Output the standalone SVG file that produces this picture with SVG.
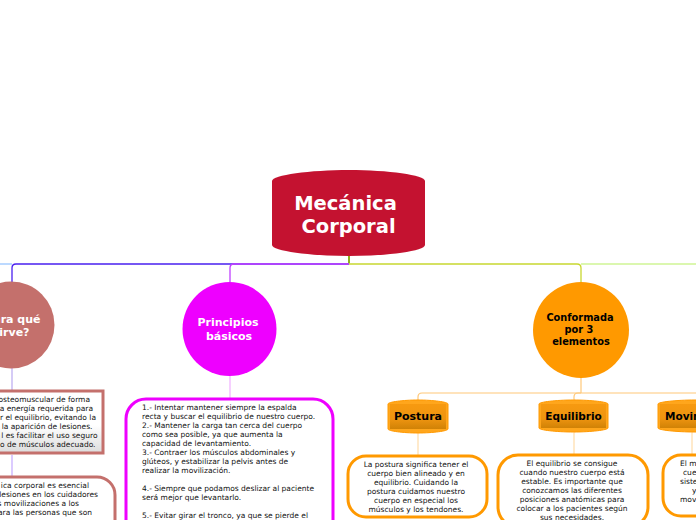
<svg xmlns="http://www.w3.org/2000/svg" width="696" height="520" viewBox="0 0 696 520">
<defs>
<linearGradient id="cyl" x1="0" y1="0" x2="0" y2="1"><stop offset="0" stop-color="#f79a10"/><stop offset="0.6" stop-color="#ee9410"/><stop offset="1" stop-color="#d08206"/></linearGradient>
<linearGradient id="boxg" x1="0" y1="0" x2="0" y2="1"><stop offset="0" stop-color="#ffffff"/><stop offset="0.55" stop-color="#ffffff"/><stop offset="1" stop-color="#dcdcdc"/></linearGradient>
</defs>
<style>
text{font-family:"DejaVu Sans",Verdana,sans-serif;text-anchor:middle}
.t{font-size:7.500px;fill:#111}
.l{text-anchor:start}
.e{text-anchor:end}
.card{fill:#fff;stroke-width:3}
.b{font-weight:bold}
</style>
<g id="connectors" fill="none">
<path d="M349 256V263.500" stroke="#8fb020" stroke-width="2"/>
<path d="M0 264H12" stroke="#8fc0ff" stroke-width="1.200"/>
<path d="M349 264H16Q12 264 12 268V282" stroke="#4a20f0" stroke-width="1.300"/>
<path d="M349 264H234Q230 264 230 268V282" stroke="#c040ff" stroke-width="1.300"/>
<path d="M349 264H577Q581 264 581 268V282" stroke="#c8d830" stroke-width="1.300"/>
<path d="M581 264H696" stroke="#b8ef60" stroke-width="1.200"/>
<path d="M12 368V391" stroke="#b9a8f0" stroke-width="1.200"/>
<path d="M12 455V477" stroke="#c4a8ff" stroke-width="1.200"/>
<path d="M230 376V399" stroke="#f0b0ff" stroke-width="1.200"/>
<path d="M581 378V393" stroke="#ffc878" stroke-width="1.200"/>
<path d="M581 393H422Q418 393 418 397V400" stroke="#ffc878" stroke-width="1.200"/>
<path d="M581 393H578Q574 393 574 397V400" stroke="#ffc878" stroke-width="1.200"/>
<path d="M581 393H696" stroke="#ffc878" stroke-width="1.200"/>
<path d="M418 433V455" stroke="#ffdca8" stroke-width="1.200"/>
<path d="M574 432V455" stroke="#ffdca8" stroke-width="1.200"/>
<path d="M692 432V455" stroke="#ffdca8" stroke-width="1.200"/>
</g>
<g id="root">
<path d="M272 181C272 175 310 170 349 170C388 170 425 175 425 181V245C425 251 388 256 349 256C310 256 272 251 272 245Z" fill="#c41230"/>
<text x="345.500" y="209.500" class="b" font-size="19.500" fill="#fff">Mecánica</text>
<text x="348.500" y="233" class="b" font-size="19.500" fill="#fff">Corporal</text>
</g>
<g id="para-que">
<circle cx="11" cy="325" r="43.500" fill="#c4706c"/>
<text class="b e" x="40.500" y="323" font-size="11" fill="#fff">ara qué</text>
<text class="b e" x="29.500" y="336" font-size="11" fill="#fff">irve?</text>
</g>
<g id="para-que-1">
<rect x="-90" y="391" width="193" height="62" fill="url(#boxg)" stroke="#c4706c" stroke-width="3"/>
<text class="t e"><tspan x="90" y="402">osteomuscular de forma</tspan><tspan x="93" y="411">a energía requerida para</tspan><tspan x="96" y="420">r el equilibrio, evitando la</tspan><tspan x="92.500" y="429">la aparición de lesiones.</tspan><tspan x="97.500" y="438">l es facilitar el uso seguro</tspan><tspan x="95.500" y="447">o de músculos adecuado.</tspan></text>
</g>
<g id="para-que-2">
<rect x="-100" y="477" width="215" height="70" rx="18" class="card" stroke="#c4706c"/>
<text class="t e"><tspan x="89" y="488">ica corporal es esencial</tspan><tspan x="98" y="497">lesiones en los cuidadores</tspan><tspan x="79" y="506">s movilizaciones a los</tspan><tspan x="92" y="515">ara las personas que son</tspan></text>
</g>
<g id="principios">
<circle cx="229.500" cy="329" r="47" fill="#ee00ff"/>
<text x="228" y="326" class="b" font-size="11" fill="#fff">Principios</text>
<text x="229" y="340" class="b" font-size="11" fill="#fff">básicos</text>
</g>
<g id="principios-1">
<rect x="126" y="399" width="207" height="150" rx="20" class="card" stroke="#ee00ff"/>
<text class="t"><tspan class="l" x="142" y="410">1.- Intentar mantener siempre la espalda</tspan><tspan class="l" x="142" y="419">recta y buscar el equilibrio de nuestro cuerpo.</tspan><tspan class="l" x="142" y="428">2.- Mantener la carga tan cerca del cuerpo</tspan><tspan class="l" x="142" y="437">como sea posible, ya que aumenta la</tspan><tspan class="l" x="142" y="446">capacidad de levantamiento.</tspan><tspan class="l" x="142" y="455">3.- Contraer los músculos abdominales y</tspan><tspan class="l" x="142" y="464">glúteos, y estabilizar la pelvis antes de</tspan><tspan class="l" x="142" y="473">realizar la movilización.</tspan><tspan class="l" x="142" y="491">4.- Siempre que podamos deslizar al paciente</tspan><tspan class="l" x="142" y="500">será mejor que levantarlo.</tspan><tspan class="l" x="142" y="518">5.- Evitar girar el tronco, ya que se pierde el</tspan></text>
</g>
<g id="conformada">
<circle cx="581" cy="330" r="48" fill="#ff9900"/>
<text x="580" y="321" class="b" font-size="9.800" fill="#000">Conformada</text>
<text x="579" y="333" class="b" font-size="9.800" fill="#000">por 3</text>
<text x="581" y="345" class="b" font-size="9.800" fill="#000">elementos</text>
</g>
<g id="postura">
<path d="M388 404C388 402 403 400 418 400C433 400 448 402 448 404V429C448 431 433 433 418 433C403 433 388 431 388 429Z" fill="#ffa61c" stroke="#ff9900"/>
<rect x="390" y="404" width="56" height="25" fill="url(#cyl)"/>
<text x="418" y="420" class="b" font-size="11" fill="#000">Postura</text>
</g>
<g id="equilibrio">
<path d="M539 404C539 402 556 400 573.500 400C591 400 608 402 608 404V428C608 430 591 432 573.500 432C556 432 539 430 539 428Z" fill="#ffa61c" stroke="#ff9900"/>
<rect x="541" y="404" width="65" height="24" fill="url(#cyl)"/>
<text x="573.500" y="420" class="b" font-size="10.500" fill="#000">Equilibrio</text>
</g>
<g id="movimiento">
<path d="M658 404C658 402 676 400 695 400C714 400 732 402 732 404V428C732 430 714 432 695 432C676 432 658 430 658 428Z" fill="#ffa61c" stroke="#ff9900"/>
<rect x="660" y="404" width="70" height="24" fill="url(#cyl)"/>
<text x="665" y="420" class="b l" font-size="10.500" fill="#000">Movin</text>
</g>
<g id="postura-1">
<rect x="348" y="456" width="139" height="61" rx="18" class="card" stroke="#ff9900"/>
<text class="t"><tspan x="416" y="467">La postura significa tener el</tspan><tspan x="416" y="476">cuerpo bien alineado y en</tspan><tspan x="416" y="485">equilibrio. Cuidando la</tspan><tspan x="416" y="494">postura cuidamos nuestro</tspan><tspan x="416" y="503">cuerpo en especial los</tspan><tspan x="416" y="512">músculos y los tendones.</tspan></text>
</g>
<g id="equilibrio-1">
<rect x="498" y="455" width="150" height="72" rx="20" class="card" stroke="#ff9900"/>
<text class="t"><tspan x="572" y="466">El equilibrio se consigue</tspan><tspan x="572" y="475">cuando nuestro cuerpo está</tspan><tspan x="572" y="484">estable.  Es importante que</tspan><tspan x="572" y="493">conozcamos las diferentes</tspan><tspan x="572" y="502">posiciones anatómicas para</tspan><tspan x="572" y="511">colocar a los pacientes según</tspan><tspan x="572" y="519.500">sus necesidades.</tspan></text>
</g>
<g id="movimiento-1">
<rect x="663" y="455" width="120" height="61" rx="18" class="card" stroke="#ff9900"/>
<text class="t l"><tspan x="680" y="466">El m</tspan><tspan x="683" y="475">cue</tspan><tspan x="680" y="484">siste</tspan><tspan x="692" y="493">y</tspan><tspan x="680" y="502">mov</tspan></text>
</g>
</svg>
